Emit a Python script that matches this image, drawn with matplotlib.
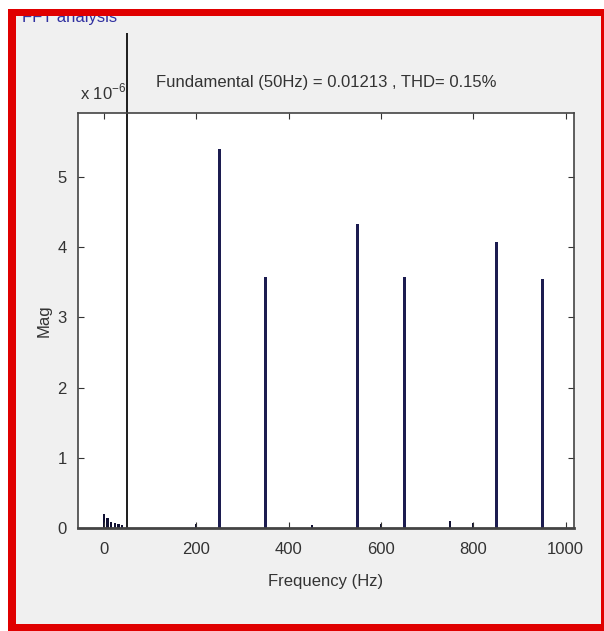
import numpy as np
import matplotlib.pyplot as plt
from matplotlib.patches import Rectangle
from matplotlib.transforms import Bbox, TransformedBbox

plt.rcParams['font.family'] = ['Liberation Sans Narrow', 'Liberation Sans', 'DejaVu Sans']

# FFT magnitudes in units of 1e-6
fund_freq = 50
fund_mag = 12130.0   # 0.01213, way off scale
harm_freqs = [250, 350, 550, 650, 850, 950]
harm_mags = [5.40, 3.58, 4.33, 3.58, 4.08, 3.55]
low_freqs = [0, 8, 16, 24, 32, 40, 200, 450, 600, 750, 800]
low_mags = [0.20, 0.14, 0.09, 0.07, 0.05, 0.04, 0.05, 0.04, 0.05, 0.10, 0.07]

title_txt = 'Fundamental (50Hz) = 0.01213 , THD= 0.15%'
xticks = [0, 200, 400, 600, 800, 1000]
yticks = [0, 1, 2, 3, 4, 5]

fig = plt.figure(figsize=(6.04, 6.31), dpi=100)
fig.patch.set_facecolor('white')

# gray window background inside the red frame
fig.patches.append(Rectangle((16/604, 7/631), 586/604, 609/631, transform=fig.transFigure,
                             facecolor='#f0f0f0', edgecolor='none', zorder=-5))

ax = fig.add_axes([78/604, 103/631, 496/604, 415/631])
ax.set_facecolor('white')

ax.bar(low_freqs, low_mags, width=5, color='#111133', edgecolor='none')
ax.bar(harm_freqs, harm_mags, width=6.5, color='#1c1c50', edgecolor='none')
fb = ax.bar([fund_freq], [fund_mag], width=6, color='#222222', edgecolor='none')
clip = TransformedBbox(Bbox([[78/604, 103/631], [574/604, (631-33)/631]]), fig.transFigure)
for p in fb:
    p.set_clip_path(None)
    p.set_clip_box(clip)
    p.set_clip_on(True)

ax.set_xlim(-56, 1018)
ax.set_ylim(0, 5.91)
ax.set_xticks(xticks)
ax.set_yticks(yticks)
ax.tick_params(direction='in', top=True, right=True, length=4, labelsize=12,
               colors='#333333')
ax.tick_params(axis='x', pad=10)
ax.tick_params(axis='y', pad=8)
for s in ax.spines.values():
    s.set_color('#444444')
    s.set_linewidth(1.2)
ax.spines['bottom'].set_linewidth(2.0)

ax.set_xlabel('Frequency (Hz)', fontsize=12, color='#333333', labelpad=12)
ax.set_ylabel('Mag', fontsize=12, color='#333333', labelpad=4)
ax.set_title(title_txt, fontsize=12, color='#333333', pad=19)

fig.text(80/604, 1 - 99/631, r'x 10$^{\mathregular{-6}}$', fontsize=12, color='#333333')
fig.text(22/604, 1 - 22/631, 'FFT analysis', fontsize=12, color='#3030a0', zorder=1)

# red frame
red = '#e00000'
fig.patches.append(Rectangle((8/604, 0), 8/604, 622/631, transform=fig.transFigure,
                             facecolor=red, edgecolor='none', zorder=5))
fig.patches.append(Rectangle((8/604, 615/631), 596/604, 7/631, transform=fig.transFigure,
                             facecolor=red, edgecolor='none', zorder=5))
fig.patches.append(Rectangle((8/604, 0), 596/604, 7/631, transform=fig.transFigure,
                             facecolor=red, edgecolor='none', zorder=5))
fig.patches.append(Rectangle((601/604, 0), 3/604, 622/631, transform=fig.transFigure,
                             facecolor=red, edgecolor='none', zorder=5))

fig.savefig('out.png', dpi=100, facecolor=fig.get_facecolor())
